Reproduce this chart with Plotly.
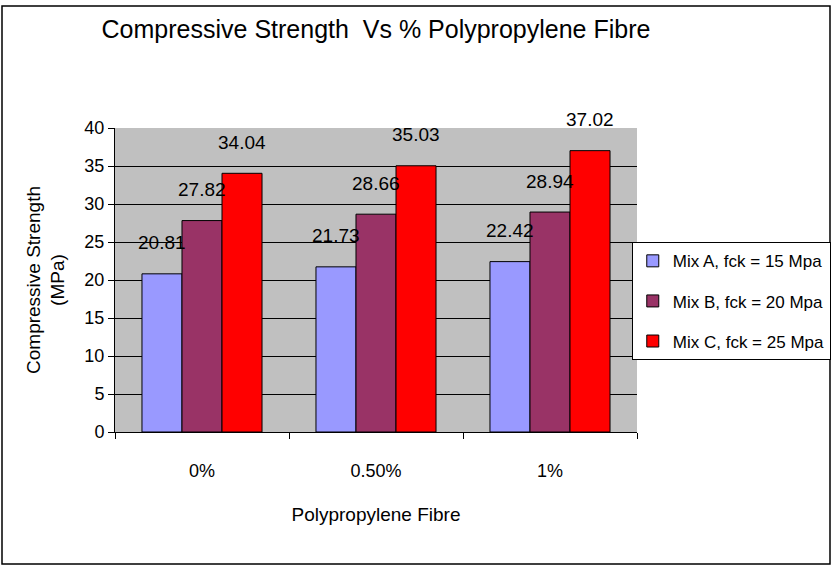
import plotly.graph_objects as go

FONT = "Liberation Sans Narrow, Arial Narrow, Liberation Sans, Arial, sans-serif"

fibre = ["0%", "0.50%", "1%"]
mix_names = ["Mix A, fck = 15 Mpa", "Mix B, fck = 20 Mpa", "Mix C, fck = 25 Mpa"]
mix_a = [20.81, 21.73, 22.42]
mix_b = [27.82, 28.66, 28.94]
mix_c = [34.04, 35.03, 37.02]
colors = ["#9999FF", "#993366", "#FF0000"]

series = [mix_a, mix_b, mix_c]

fig = go.Figure()
for i, (name, vals) in enumerate(zip(mix_names, series)):
    fig.add_trace(
        go.Bar(
            x=fibre,
            y=vals,
            name=name,
            legendgroup=name,
            marker=dict(color=colors[i], line=dict(color="black", width=1)),
        )
    )

# value labels sit well above the bars, like the original Excel chart
shifts = [-40, 0, 40]
for i, vals in enumerate(series):
    for cat, v in zip(fibre, vals):
        fig.add_annotation(
            x=cat, y=v, xref="x", yref="y",
            text=f"{v:.2f}", showarrow=False,
            xshift=shifts[i], yshift=31,
            font=dict(size=19, color="black"),
        )

fig.update_layout(
    width=833,
    height=567,
    paper_bgcolor="white",
    plot_bgcolor="#C0C0C0",
    font=dict(family=FONT, color="black", size=18),
    margin=dict(l=115, r=196, t=128, b=135, autoexpand=False),
    barmode="group",
    bargap=0.31,
    bargroupgap=0,
    title=dict(
        text="Compressive Strength  Vs % Polypropylene Fibre",
        x=0.5, xref="paper", xanchor="center",
        y=0.948, yref="container", yanchor="middle",
        font=dict(size=25, color="black"),
    ),
    legend=dict(
        x=0.99, xanchor="left", y=0.43, yanchor="middle",
        bgcolor="white", bordercolor="black", borderwidth=1,
        font=dict(size=17),
        tracegroupgap=15,
    ),
    showlegend=True,
)

fig.update_xaxes(
    automargin=False,
    showline=True, linecolor="black", linewidth=1,
    ticks="outside", tickson="boundaries", ticklen=6, tickcolor="black",
    ticklabelstandoff=22,
    title=dict(text="Polypropylene Fibre", font=dict(size=19), standoff=28),
)
fig.update_yaxes(
    automargin=False,
    range=[0, 40], dtick=5,
    showline=True, linecolor="black", linewidth=1,
    ticks="outside", ticklen=6, tickcolor="black",
    showgrid=True, gridcolor="black", gridwidth=1,
    zeroline=False,
    title=dict(text="Compressive Strength<br>(MPa)", font=dict(size=19), standoff=14),
)

# frame round the whole chart
fig.add_shape(
    type="rect", xref="paper", yref="paper",
    x0=-113 / 522, x1=715 / 522, y0=-132 / 304, y1=426 / 304,
    line=dict(color="black", width=1.5), fillcolor="rgba(0,0,0,0)",
)

fig.write_html(
    "out.html",
    config={"displayModeBar": False},
    post_script="document.body.style.margin='0';",
)
